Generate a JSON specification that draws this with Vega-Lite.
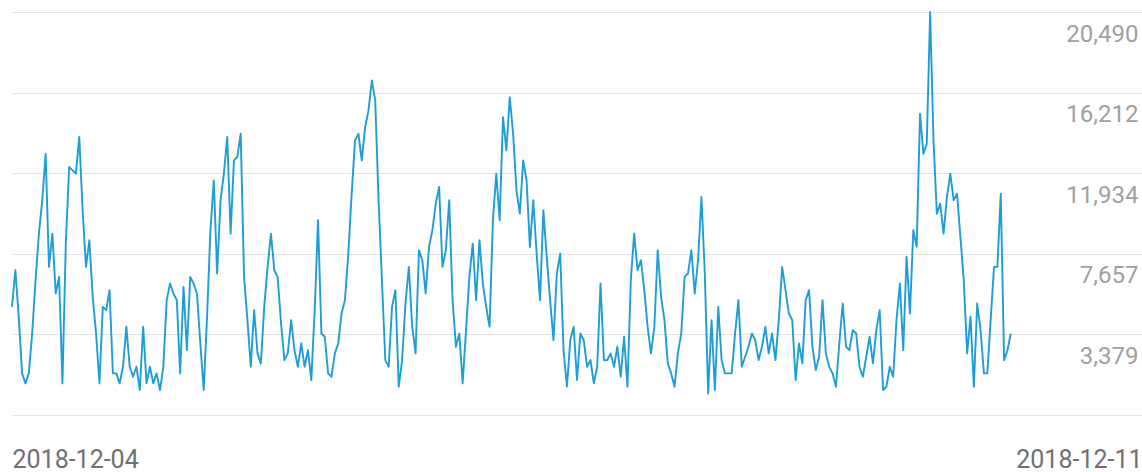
{
  "$schema": "https://vega.github.io/schema/vega-lite/v6.json",
  "width": 1130,
  "height": 403,
  "autosize": {"type": "none"},
  "padding": {"left": 12, "top": 12, "right": 0, "bottom": 57},
  "background": "white",
  "config": {"view": {"stroke": null}},
  "data": {"values": [
    {"t":"2018-12-04T00:00","v":4842},{"t":"2018-12-04T00:30","v":6786},{"t":"2018-12-04T01:00","v":4312},{"t":"2018-12-04T01:30","v":1309},
    {"t":"2018-12-04T02:00","v":779},{"t":"2018-12-04T02:30","v":1309},{"t":"2018-12-04T03:00","v":3429},{"t":"2018-12-04T03:30","v":6256},
    {"t":"2018-12-04T04:00","v":8729},{"t":"2018-12-04T04:30","v":10496},{"t":"2018-12-04T05:00","v":12969},{"t":"2018-12-04T05:30","v":6962},
    {"t":"2018-12-04T06:00","v":8729},{"t":"2018-12-04T06:30","v":5549},{"t":"2018-12-04T07:00","v":6432},{"t":"2018-12-04T07:30","v":779},
    {"t":"2018-12-04T08:00","v":8199},{"t":"2018-12-04T08:30","v":12263},{"t":"2018-12-04T09:00","v":12086},{"t":"2018-12-04T09:30","v":11909},
    {"t":"2018-12-04T10:00","v":13853},{"t":"2018-12-04T10:30","v":9966},{"t":"2018-12-04T11:00","v":6962},{"t":"2018-12-04T11:30","v":8376},
    {"t":"2018-12-04T12:00","v":5372},{"t":"2018-12-04T12:30","v":3429},{"t":"2018-12-04T13:00","v":779},{"t":"2018-12-04T13:30","v":4842},
    {"t":"2018-12-04T14:00","v":4666},{"t":"2018-12-04T14:30","v":5726},{"t":"2018-12-04T15:00","v":1309},{"t":"2018-12-04T15:30","v":1309},
    {"t":"2018-12-04T16:00","v":779},{"t":"2018-12-04T16:30","v":1662},{"t":"2018-12-04T17:00","v":3782},{"t":"2018-12-04T17:30","v":1662},
    {"t":"2018-12-04T18:00","v":1132},{"t":"2018-12-04T18:30","v":1662},{"t":"2018-12-04T19:00","v":426},{"t":"2018-12-04T19:30","v":3782},
    {"t":"2018-12-04T20:00","v":779},{"t":"2018-12-04T20:30","v":1662},{"t":"2018-12-04T21:00","v":779},{"t":"2018-12-04T21:30","v":1309},
    {"t":"2018-12-04T22:00","v":426},{"t":"2018-12-04T22:30","v":1662},{"t":"2018-12-04T23:00","v":5196},{"t":"2018-12-04T23:30","v":6079},
    {"t":"2018-12-05T00:00","v":5549},{"t":"2018-12-05T00:30","v":5196},{"t":"2018-12-05T01:00","v":1309},{"t":"2018-12-05T01:30","v":5902},
    {"t":"2018-12-05T02:00","v":2546},{"t":"2018-12-05T02:30","v":6432},{"t":"2018-12-05T03:00","v":6079},{"t":"2018-12-05T03:30","v":5549},
    {"t":"2018-12-05T04:00","v":2899},{"t":"2018-12-05T04:30","v":426},{"t":"2018-12-05T05:00","v":4312},{"t":"2018-12-05T05:30","v":8906},
    {"t":"2018-12-05T06:00","v":11556},{"t":"2018-12-05T06:30","v":6609},{"t":"2018-12-05T07:00","v":10496},{"t":"2018-12-05T07:30","v":11909},
    {"t":"2018-12-05T08:00","v":13853},{"t":"2018-12-05T08:30","v":8729},{"t":"2018-12-05T09:00","v":12616},{"t":"2018-12-05T09:30","v":12793},
    {"t":"2018-12-05T10:00","v":14029},{"t":"2018-12-05T10:30","v":6432},{"t":"2018-12-05T11:00","v":4136},{"t":"2018-12-05T11:30","v":1662},
    {"t":"2018-12-05T12:00","v":4666},{"t":"2018-12-05T12:30","v":2369},{"t":"2018-12-05T13:00","v":1839},{"t":"2018-12-05T13:30","v":4842},
    {"t":"2018-12-05T14:00","v":6962},{"t":"2018-12-05T14:30","v":8729},{"t":"2018-12-05T15:00","v":6786},{"t":"2018-12-05T15:30","v":6432},
    {"t":"2018-12-05T16:00","v":3959},{"t":"2018-12-05T16:30","v":2016},{"t":"2018-12-05T17:00","v":2369},{"t":"2018-12-05T17:30","v":4136},
    {"t":"2018-12-05T18:00","v":2546},{"t":"2018-12-05T18:30","v":1662},{"t":"2018-12-05T19:00","v":2899},{"t":"2018-12-05T19:30","v":1662},
    {"t":"2018-12-05T20:00","v":2546},{"t":"2018-12-05T20:30","v":956},{"t":"2018-12-05T21:00","v":4666},{"t":"2018-12-05T21:30","v":9436},
    {"t":"2018-12-05T22:00","v":3429},{"t":"2018-12-05T22:30","v":3252},{"t":"2018-12-05T23:00","v":1309},{"t":"2018-12-05T23:30","v":1132},
    {"t":"2018-12-06T00:00","v":2369},{"t":"2018-12-06T00:30","v":2899},{"t":"2018-12-06T01:00","v":4489},{"t":"2018-12-06T01:30","v":5196},
    {"t":"2018-12-06T02:00","v":7669},{"t":"2018-12-06T02:30","v":10849},{"t":"2018-12-06T03:00","v":13676},{"t":"2018-12-06T03:30","v":14029},
    {"t":"2018-12-06T04:00","v":12616},{"t":"2018-12-06T04:30","v":14383},{"t":"2018-12-06T05:00","v":15266},{"t":"2018-12-06T05:30","v":16856},
    {"t":"2018-12-06T06:00","v":15796},{"t":"2018-12-06T06:30","v":10496},{"t":"2018-12-06T07:00","v":6256},{"t":"2018-12-06T07:30","v":2016},
    {"t":"2018-12-06T08:00","v":1662},{"t":"2018-12-06T08:30","v":4842},{"t":"2018-12-06T09:00","v":5726},{"t":"2018-12-06T09:30","v":602},
    {"t":"2018-12-06T10:00","v":2016},{"t":"2018-12-06T10:30","v":5019},{"t":"2018-12-06T11:00","v":6962},{"t":"2018-12-06T11:30","v":3782},
    {"t":"2018-12-06T12:00","v":2369},{"t":"2018-12-06T12:30","v":7846},{"t":"2018-12-06T13:00","v":7316},{"t":"2018-12-06T13:30","v":5549},
    {"t":"2018-12-06T14:00","v":8022},{"t":"2018-12-06T14:30","v":8906},{"t":"2018-12-06T15:00","v":10319},{"t":"2018-12-06T15:30","v":11203},
    {"t":"2018-12-06T16:00","v":6962},{"t":"2018-12-06T16:30","v":7846},{"t":"2018-12-06T17:00","v":10496},{"t":"2018-12-06T17:30","v":5196},
    {"t":"2018-12-06T18:00","v":2722},{"t":"2018-12-06T18:30","v":3429},{"t":"2018-12-06T19:00","v":779},{"t":"2018-12-06T19:30","v":3606},
    {"t":"2018-12-06T20:00","v":6432},{"t":"2018-12-06T20:30","v":8199},{"t":"2018-12-06T21:00","v":5196},{"t":"2018-12-06T21:30","v":8376},
    {"t":"2018-12-06T22:00","v":6079},{"t":"2018-12-06T22:30","v":4842},{"t":"2018-12-06T23:00","v":3782},{"t":"2018-12-06T23:30","v":9436},
    {"t":"2018-12-07T00:00","v":11909},{"t":"2018-12-07T00:30","v":9436},{"t":"2018-12-07T01:00","v":14913},{"t":"2018-12-07T01:30","v":13146},
    {"t":"2018-12-07T02:00","v":15973},{"t":"2018-12-07T02:30","v":14029},{"t":"2018-12-07T03:00","v":11026},{"t":"2018-12-07T03:30","v":9789},
    {"t":"2018-12-07T04:00","v":12616},{"t":"2018-12-07T04:30","v":11556},{"t":"2018-12-07T05:00","v":8022},{"t":"2018-12-07T05:30","v":10496},
    {"t":"2018-12-07T06:00","v":7669},{"t":"2018-12-07T06:30","v":5196},{"t":"2018-12-07T07:00","v":9966},{"t":"2018-12-07T07:30","v":7493},
    {"t":"2018-12-07T08:00","v":5196},{"t":"2018-12-07T08:30","v":3076},{"t":"2018-12-07T09:00","v":6609},{"t":"2018-12-07T09:30","v":7669},
    {"t":"2018-12-07T10:00","v":2546},{"t":"2018-12-07T10:30","v":602},{"t":"2018-12-07T11:00","v":3076},{"t":"2018-12-07T11:30","v":3782},
    {"t":"2018-12-07T12:00","v":956},{"t":"2018-12-07T12:30","v":3429},{"t":"2018-12-07T13:00","v":3076},{"t":"2018-12-07T13:30","v":1662},
    {"t":"2018-12-07T14:00","v":2016},{"t":"2018-12-07T14:30","v":779},{"t":"2018-12-07T15:00","v":1662},{"t":"2018-12-07T15:30","v":6079},
    {"t":"2018-12-07T16:00","v":2016},{"t":"2018-12-07T16:30","v":2016},{"t":"2018-12-07T17:00","v":2369},{"t":"2018-12-07T17:30","v":1662},
    {"t":"2018-12-07T18:00","v":2722},{"t":"2018-12-07T18:30","v":1132},{"t":"2018-12-07T19:00","v":3252},{"t":"2018-12-07T19:30","v":602},
    {"t":"2018-12-07T20:00","v":6256},{"t":"2018-12-07T20:30","v":8729},{"t":"2018-12-07T21:00","v":6786},{"t":"2018-12-07T21:30","v":7316},
    {"t":"2018-12-07T22:00","v":5726},{"t":"2018-12-07T22:30","v":3782},{"t":"2018-12-07T23:00","v":2369},{"t":"2018-12-07T23:30","v":3782},
    {"t":"2018-12-08T00:00","v":7846},{"t":"2018-12-08T00:30","v":5372},{"t":"2018-12-08T01:00","v":4136},{"t":"2018-12-08T01:30","v":1839},
    {"t":"2018-12-08T02:00","v":1309},{"t":"2018-12-08T02:30","v":602},{"t":"2018-12-08T03:00","v":2369},{"t":"2018-12-08T03:30","v":3429},
    {"t":"2018-12-08T04:00","v":6432},{"t":"2018-12-08T04:30","v":6609},{"t":"2018-12-08T05:00","v":7846},{"t":"2018-12-08T05:30","v":5549},
    {"t":"2018-12-08T06:00","v":7316},{"t":"2018-12-08T06:30","v":10672},{"t":"2018-12-08T07:00","v":6609},{"t":"2018-12-08T07:30","v":249},
    {"t":"2018-12-08T08:00","v":4136},{"t":"2018-12-08T08:30","v":426},{"t":"2018-12-08T09:00","v":4842},{"t":"2018-12-08T09:30","v":2016},
    {"t":"2018-12-08T10:00","v":1309},{"t":"2018-12-08T10:30","v":1309},{"t":"2018-12-08T11:00","v":1309},{"t":"2018-12-08T11:30","v":3429},
    {"t":"2018-12-08T12:00","v":5196},{"t":"2018-12-08T12:30","v":1662},{"t":"2018-12-08T13:00","v":2192},{"t":"2018-12-08T13:30","v":2722},
    {"t":"2018-12-08T14:00","v":3429},{"t":"2018-12-08T14:30","v":3076},{"t":"2018-12-08T15:00","v":2016},{"t":"2018-12-08T15:30","v":2722},
    {"t":"2018-12-08T16:00","v":3782},{"t":"2018-12-08T16:30","v":2369},{"t":"2018-12-08T17:00","v":3429},{"t":"2018-12-08T17:30","v":2016},
    {"t":"2018-12-08T18:00","v":4136},{"t":"2018-12-08T18:30","v":6962},{"t":"2018-12-08T19:00","v":5726},{"t":"2018-12-08T19:30","v":4489},
    {"t":"2018-12-08T20:00","v":4136},{"t":"2018-12-08T20:30","v":956},{"t":"2018-12-08T21:00","v":2899},{"t":"2018-12-08T21:30","v":1839},
    {"t":"2018-12-08T22:00","v":5196},{"t":"2018-12-08T22:30","v":5726},{"t":"2018-12-08T23:00","v":2722},{"t":"2018-12-08T23:30","v":1486},
    {"t":"2018-12-09T00:00","v":2192},{"t":"2018-12-09T00:30","v":5196},{"t":"2018-12-09T01:00","v":2369},{"t":"2018-12-09T01:30","v":1662},
    {"t":"2018-12-09T02:00","v":1309},{"t":"2018-12-09T02:30","v":602},{"t":"2018-12-09T03:00","v":2899},{"t":"2018-12-09T03:30","v":5019},
    {"t":"2018-12-09T04:00","v":2722},{"t":"2018-12-09T04:30","v":2546},{"t":"2018-12-09T05:00","v":3606},{"t":"2018-12-09T05:30","v":3429},
    {"t":"2018-12-09T06:00","v":1662},{"t":"2018-12-09T06:30","v":1132},{"t":"2018-12-09T07:00","v":2192},{"t":"2018-12-09T07:30","v":3252},
    {"t":"2018-12-09T08:00","v":1839},{"t":"2018-12-09T08:30","v":3606},{"t":"2018-12-09T09:00","v":4666},{"t":"2018-12-09T09:30","v":426},
    {"t":"2018-12-09T10:00","v":602},{"t":"2018-12-09T10:30","v":1662},{"t":"2018-12-09T11:00","v":1132},{"t":"2018-12-09T11:30","v":4136},
    {"t":"2018-12-09T12:00","v":6079},{"t":"2018-12-09T12:30","v":2546},{"t":"2018-12-09T13:00","v":7493},{"t":"2018-12-09T13:30","v":4489},
    {"t":"2018-12-09T14:00","v":8906},{"t":"2018-12-09T14:30","v":8022},{"t":"2018-12-09T15:00","v":15089},{"t":"2018-12-09T15:30","v":12969},
    {"t":"2018-12-09T16:00","v":13499},{"t":"2018-12-09T16:30","v":20490},{"t":"2018-12-09T17:00","v":13676},{"t":"2018-12-09T17:30","v":9789},
    {"t":"2018-12-09T18:00","v":10319},{"t":"2018-12-09T18:30","v":8729},{"t":"2018-12-09T19:00","v":10672},{"t":"2018-12-09T19:30","v":11909},
    {"t":"2018-12-09T20:00","v":10496},{"t":"2018-12-09T20:30","v":10849},{"t":"2018-12-09T21:00","v":8552},{"t":"2018-12-09T21:30","v":6256},
    {"t":"2018-12-09T22:00","v":2369},{"t":"2018-12-09T22:30","v":4312},{"t":"2018-12-09T23:00","v":602},{"t":"2018-12-09T23:30","v":5019},
    {"t":"2018-12-10T00:00","v":3606},{"t":"2018-12-10T00:30","v":1309},{"t":"2018-12-10T01:00","v":1309},{"t":"2018-12-10T01:30","v":4136},
    {"t":"2018-12-10T02:00","v":6962},{"t":"2018-12-10T02:30","v":6962},{"t":"2018-12-10T03:00","v":10849},{"t":"2018-12-10T03:30","v":2016},
    {"t":"2018-12-10T04:00","v":2546},{"t":"2018-12-10T04:30","v":3429}
  ]},
  "mark": {"type": "line", "color": "#1f9dd6", "strokeWidth": 1.9, "strokeJoin": "round", "clip": false},
  "encoding": {
    "x": {
      "field": "t", "type": "temporal", "title": null,
      "scale": {"domain": [{"year": 2018, "month": 12, "date": 4}, {"year": 2018, "month": 12, "date": 11}]},
      "axis": {
        "values": [{"year": 2018, "month": 12, "date": 4}, {"year": 2018, "month": 12, "date": 11}],
        "format": "%Y-%m-%d", "labelFlush": true, "domain": false, "ticks": false, "grid": false,
        "labelFont": "Roboto", "labelFontSize": 25, "labelColor": "#707070",
        "labelPadding": 32, "labelBaseline": "top"
      }
    },
    "y": {
      "field": "v", "type": "quantitative", "title": null,
      "scale": {"domain": [-899, 20490], "nice": false, "zero": false},
      "axis": {
        "orient": "right",
        "values": [-899, 3379, 7657, 11934, 16212, 20490],
        "labelExpr": "datum.value < 0 ? '' : format(datum.value, ',')",
        "domain": false, "ticks": false, "grid": true, "gridColor": "#e3e3e3", "gridWidth": 1,
        "labelAlign": "right", "labelPadding": -4, "labelBaseline": "top", "labelOffset": 10,
        "labelFont": "Roboto", "labelFontSize": 24, "labelColor": "#a0a0a0"
      }
    }
  }
}
